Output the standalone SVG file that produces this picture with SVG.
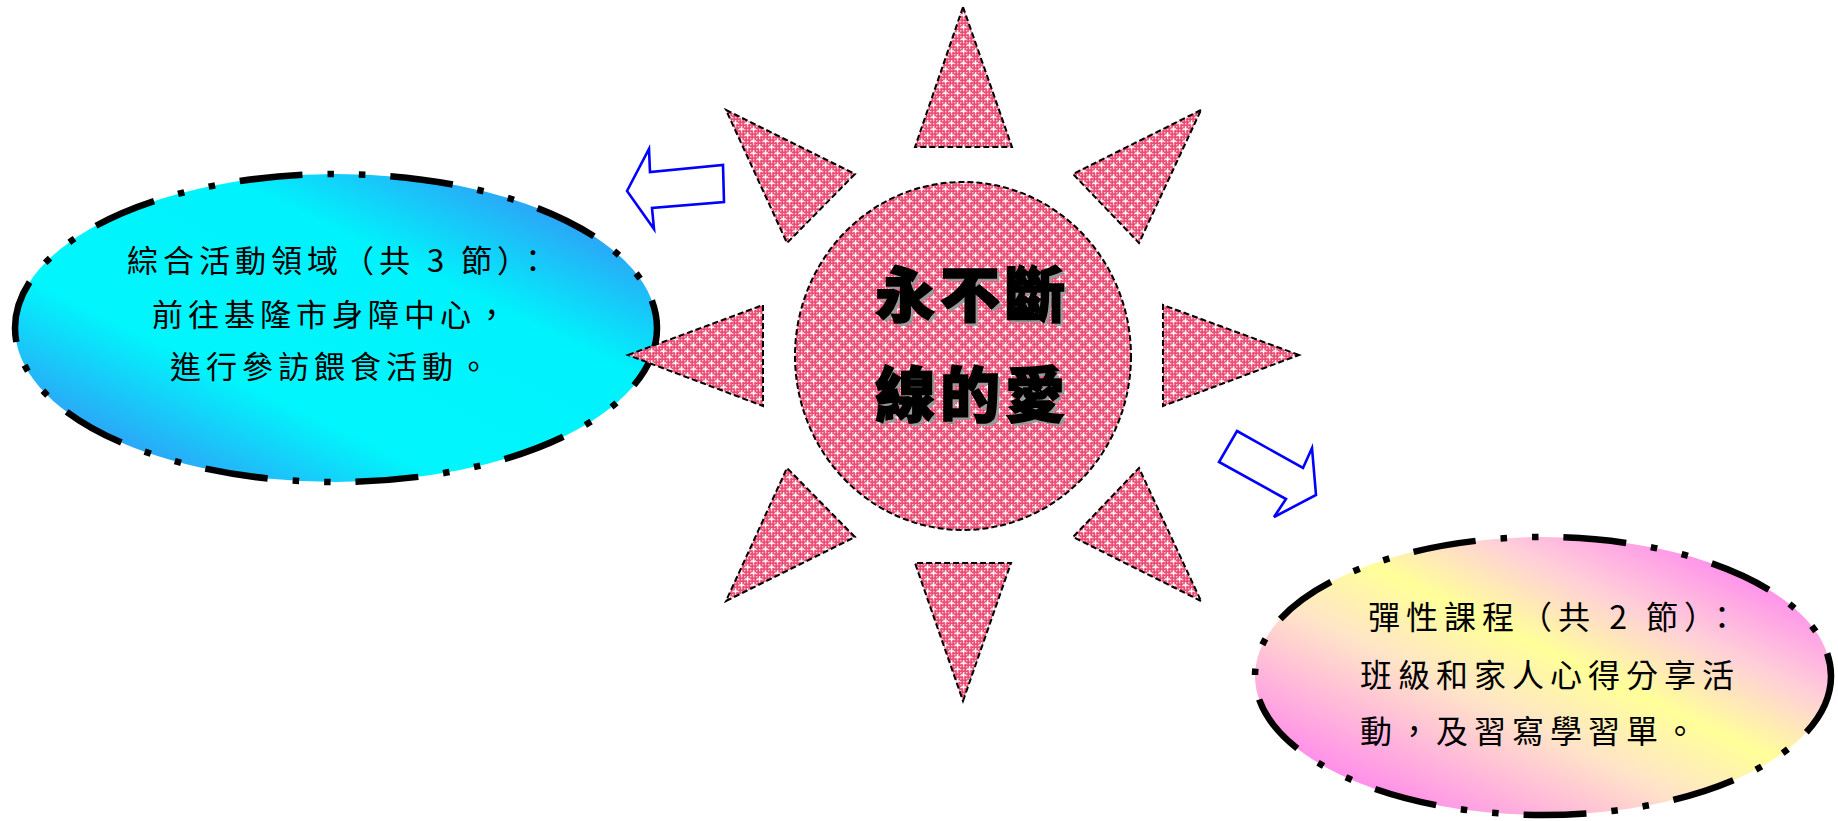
<svg xmlns="http://www.w3.org/2000/svg" width="1838" height="821" viewBox="0 0 1838 821">
<defs>
<pattern id="fine" patternUnits="userSpaceOnUse" width="3" height="3">
<rect width="3" height="3" fill="#ea4c73"/>
<rect x="0" y="0" width="1.4" height="1.4" fill="#fbc8d5"/>
</pattern>
<pattern id="stars" patternUnits="userSpaceOnUse" width="12" height="12">
<g fill="#ffffff">
<rect x="1" y="2.4" width="5" height="1.4"/><rect x="2.8" y="0.6" width="1.4" height="5"/>
<rect x="7" y="8.4" width="5" height="1.4"/><rect x="8.8" y="6.6" width="1.4" height="5"/>
</g>
</pattern>
<linearGradient id="gBlue" x1="1" y1="0" x2="0" y2="1">
<stop offset="0.08" stop-color="#3a8cf5"/>
<stop offset="0.34" stop-color="#00f2fc"/>
<stop offset="0.66" stop-color="#00f6fc"/>
<stop offset="0.92" stop-color="#3a8cf5"/>
</linearGradient>
<linearGradient id="gPink" x1="1" y1="0" x2="0" y2="1">
<stop offset="0.1" stop-color="#ff80f0"/>
<stop offset="0.3" stop-color="#ffd0d8"/>
<stop offset="0.45" stop-color="#ffff99"/>
<stop offset="0.6" stop-color="#ffe4c8"/>
<stop offset="0.9" stop-color="#ff80f0"/>
</linearGradient>
<g id="rays">
<polygon points="963,7 1012,147 915,147"/>
<polygon points="963,701 1011,563 915,563"/>
<polygon points="628,355 763,305 763,406"/>
<polygon points="1299,355 1163,305 1163,406"/>
<polygon points="726,110 855,174 787,243"/>
<polygon points="1201,110 1073,174 1139,243"/>
<polygon points="726,601 855,537 787,468"/>
<polygon points="1201,601 1073,537 1139,468"/>
<ellipse cx="963" cy="356" rx="168" ry="174"/>
</g>
<style>
.fill1{fill:url(#fine)}
.fill2{fill:url(#stars)}
.edge{fill:none;stroke:#000;stroke-width:2;stroke-dasharray:6 3}
.bubble{stroke:#000;stroke-width:6.5;stroke-dasharray:63 25 6.5 25 6.5 25}
.arrow{fill:#fff;stroke:#0000ff;stroke-width:2.6;stroke-linejoin:miter}
.txt{font-family:"Noto Sans CJK TC","Noto Sans CJK SC",sans-serif;font-size:31px;fill:#000;letter-spacing:5px}
.title{font-family:"Noto Sans CJK TC","Noto Sans CJK SC",sans-serif;font-size:60px;font-weight:900;letter-spacing:5px}
</style>
</defs>
<rect width="1838" height="821" fill="#fff"/>

<g id="node-left">
<ellipse class="bubble" cx="336" cy="328" rx="321" ry="154" fill="url(#gBlue)"/>
<text class="txt" x="127" y="272">綜合活動領域（共 3 節）：</text>
<text class="txt" x="152" y="326">前往基隆市身障中心，</text>
<text class="txt" x="170" y="378">進行參訪餵食活動。</text>
</g>

<g id="node-right">
<ellipse class="bubble" cx="1543" cy="676" rx="288" ry="139" fill="url(#gPink)"/>
<text class="txt" x="1368" y="629" style="font-size:32px;letter-spacing:6px">彈性課程（共 2 節）：</text>
<text class="txt" x="1360" y="687" style="font-size:32px;letter-spacing:6px">班級和家人心得分享活</text>
<text class="txt" x="1360" y="743" style="font-size:32px;letter-spacing:6px">動，及習寫學習單。</text>
</g>

<g id="sun">
<use href="#rays" class="fill1"/>
<use href="#rays" class="fill2"/>
<use href="#rays" class="edge"/>
<g class="title">
<text x="878" y="320" fill="#999">永不斷</text>
<text x="878" y="420" fill="#999">線的愛</text>
<text x="875" y="317" fill="#000" stroke="#000" stroke-width="1.5">永不斷</text>
<text x="875" y="417" fill="#000" stroke="#000" stroke-width="1.5">線的愛</text>
</g>
</g>

<g id="connectors">
<polygon class="arrow" points="627,191 649,149 650,172 723,165 724,202 652,208 654,229"/>
<polygon class="arrow" points="1237,431 1303,468 1312,448 1316,495 1274,517 1286,499 1219,462"/>
</g>
</svg>
